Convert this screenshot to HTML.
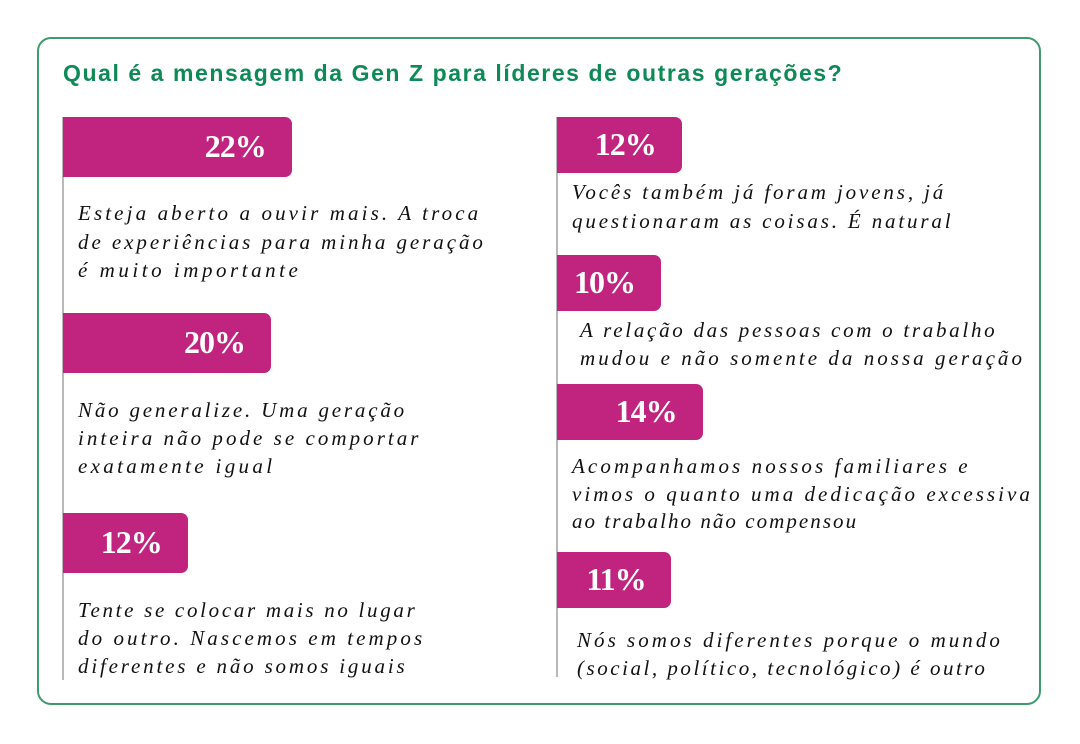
<!DOCTYPE html>
<html><head><meta charset="utf-8"><style>
body{margin:0;background:#fff;width:1080px;height:744px;overflow:hidden;position:relative;font-family:"Liberation Sans",sans-serif}
#frame{position:absolute;left:37px;top:37px;width:1004px;height:668px;border:2px solid #3f9a6e;border-radius:14px;box-sizing:border-box}
#title{position:absolute;left:63px;top:60px;font-weight:bold;font-size:23px;color:#0e8a57;white-space:nowrap}
.vline{position:absolute;width:2px;background:#b8b8b8}
.bar{position:absolute;background:#c0247f;border-radius:0 7px 7px 0}
.pct{position:absolute;color:#fff;font-family:"Liberation Serif",serif;font-weight:bold;font-size:32px;letter-spacing:-1px;white-space:nowrap}
.ln{position:absolute;font-family:"Liberation Serif",serif;font-style:italic;font-size:21px;color:#111;white-space:nowrap;line-height:24px}
</style></head><body>
<div id="frame"></div>
<div id="title">Qual é a mensagem da Gen Z para líderes de outras gerações?</div>
<div class="vline" style="left:62px;top:117px;height:563px"></div>
<div class="vline" style="left:556px;top:117px;height:560px"></div>
<div id="chart"></div>
<script>
const values=[22,20,12,12,10,14,11];
const labels=["22%","20%","12%","12%","10%","14%","11%"];
const texts=[
["Esteja aberto a ouvir mais. A troca","de experiências para minha geração","é muito importante"],
["Não generalize. Uma geração","inteira não pode se comportar","exatamente igual"],
["Tente se colocar mais no lugar","do outro. Nascemos em tempos","diferentes e não somos iguais"],
["Vocês também já foram jovens, já","questionaram as coisas. É natural"],
["A relação das pessoas com o trabalho","mudou e não somente da nossa geração"],
["Acompanhamos nossos familiares e","vimos o quanto uma dedicação excessiva","ao trabalho não compensou"],
["Nós somos diferentes porque o mundo","(social, político, tecnológico) é outro"]
];
// layout (not data)
const layout=[
{x:63,y:117,h:60,tx:78,ty:[213,242,270],tw:[400,405,220]},
{x:63,y:313,h:60,tx:78,ty:[410,438,466],tw:[326,340,194]},
{x:63,y:513,h:60,tx:78,ty:[610,638,666],tw:[337,344,327]},
{x:557,y:117,h:56,tx:572,ty:[192,221],tw:[371,379]},
{x:557,y:255,h:56,tx:580,ty:[330,358],tw:[415,442]},
{x:557,y:384,h:56,tx:572,ty:[466,494,521],tw:[396,458,284]},
{x:557,y:552,h:56,tx:577,ty:[640,668],tw:[423,408]}
];
const xScale=v=>v*10.4;
const c=document.getElementById('chart');
values.forEach((v,i)=>{
 const L=layout[i];
 const b=document.createElement('div');
 b.className='bar';
 
 
 const w=xScale(v);
 b.style.cssText=`left:${L.x}px;top:${L.y}px;width:${w}px;height:${L.h}px`;
 c.appendChild(b);
 const p=document.createElement('div');
 p.className='pct';
 
 
 p.textContent=labels[i];
 c.appendChild(p);
 p.style.left=(L.x+w-26-p.offsetWidth)+'px';
 p.style.top=(L.y+L.h/2-19)+'px';
 texts[i].forEach((t,j)=>{
  const d=document.createElement('div');
  d.className='ln';
  
  
  d.textContent=t;
  c.appendChild(d);
  const n=t.length;
  const ls=(L.tw[j]-d.offsetWidth)/Math.max(n-1,1);
  d.style.letterSpacing=ls+'px';
  d.style.left=L.tx+'px';
  d.style.top=(L.ty[j]-12)+'px';
 });
});
const ti=document.getElementById('title');
const tl=ti.textContent.length;
ti.style.letterSpacing=((779-ti.offsetWidth)/(tl-1))+'px';
</script>
</body></html>
